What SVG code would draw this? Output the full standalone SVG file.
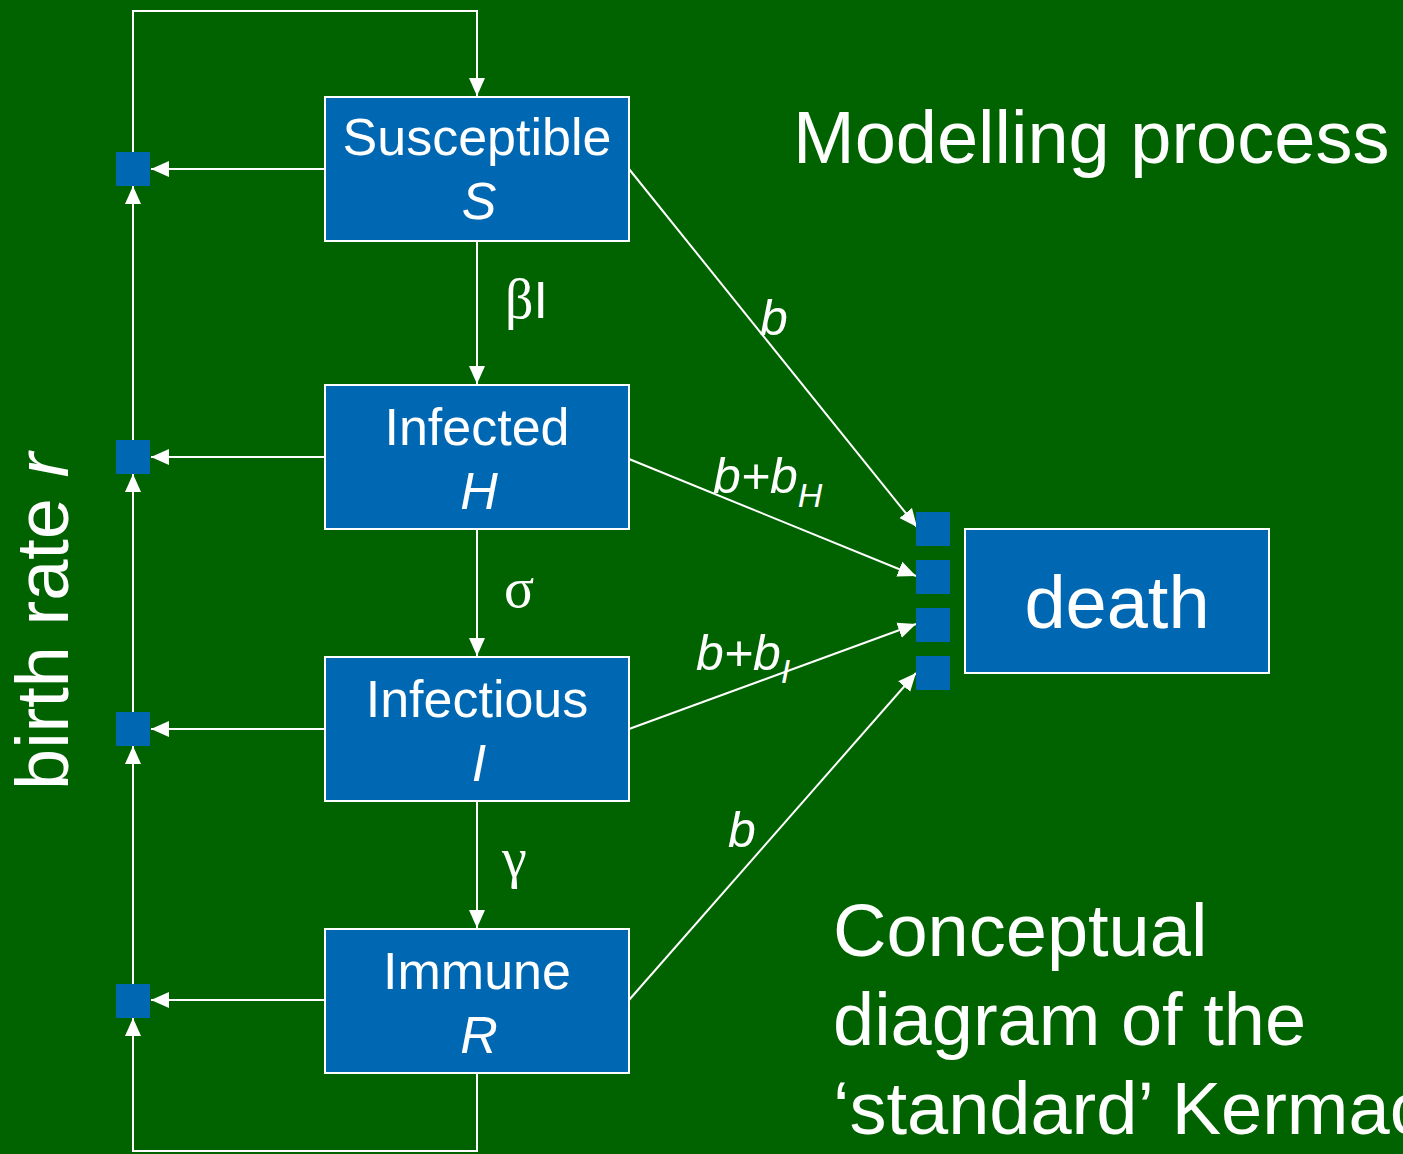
<svg xmlns="http://www.w3.org/2000/svg" width="1403" height="1154" viewBox="0 0 1403 1154">
<defs>
<style>
.box{fill:#0068b2;stroke:#ffffff;stroke-width:2}
.sq{fill:#0068b2}
.ln{fill:none;stroke:#ffffff;stroke-width:2}
.t{font-family:"Liberation Sans",Arial,sans-serif;fill:#ffffff}
.g{font-family:"Liberation Serif","Times New Roman",serif;fill:#ffffff}
.bt{font-size:52px;text-anchor:middle}
.it{font-style:italic}
.big{font-size:74px}
.lab{font-size:50px;font-style:italic}
</style>
<marker id="ah" markerUnits="userSpaceOnUse" markerWidth="18" markerHeight="18" viewBox="0 0 18 18" refX="18" refY="9" orient="auto">
<path d="M0,1 L18,9 L0,17 Z" fill="#ffffff"/>
</marker>
</defs>
<rect x="0" y="0" width="1403" height="1154" fill="#006300"/>

<g id="connectors">
<path class="ln" d="M133,152 V11 H477 V96" marker-end="url(#ah)"/>
<path class="ln" d="M477,1074 V1151 H133 V1018" marker-end="url(#ah)"/>
<path class="ln" d="M133,440 V186" marker-end="url(#ah)"/>
<path class="ln" d="M133,712 V474" marker-end="url(#ah)"/>
<path class="ln" d="M133,984 V746" marker-end="url(#ah)"/>
<path class="ln" d="M325,169 H151" marker-end="url(#ah)"/>
<path class="ln" d="M325,457 H151" marker-end="url(#ah)"/>
<path class="ln" d="M325,729 H151" marker-end="url(#ah)"/>
<path class="ln" d="M325,1000 H151" marker-end="url(#ah)"/>
<path class="ln" d="M477,241 V384" marker-end="url(#ah)"/>
<path class="ln" d="M477,529 V656" marker-end="url(#ah)"/>
<path class="ln" d="M477,801 V928" marker-end="url(#ah)"/>
<path class="ln" d="M629,169 L917,527" marker-end="url(#ah)"/>
<path class="ln" d="M629,459 L916,576" marker-end="url(#ah)"/>
<path class="ln" d="M629,729 L916,624" marker-end="url(#ah)"/>
<path class="ln" d="M629,1000 L916,673" marker-end="url(#ah)"/>
</g>

<g id="junctions">
<rect class="sq" x="116" y="152" width="34" height="34"/>
<rect class="sq" x="116" y="440" width="34" height="34"/>
<rect class="sq" x="116" y="712" width="34" height="34"/>
<rect class="sq" x="116" y="984" width="34" height="34"/>
<rect class="sq" x="916" y="512" width="34" height="34"/>
<rect class="sq" x="916" y="560" width="34" height="34"/>
<rect class="sq" x="916" y="608" width="34" height="34"/>
<rect class="sq" x="916" y="656" width="34" height="34"/>
</g>

<g id="susceptible">
<rect class="box" x="325" y="97" width="304" height="144"/>
<text class="t bt" x="477" y="155">Susceptible</text>
<text class="t bt it" x="479" y="219">S</text>
</g>
<g id="infected">
<rect class="box" x="325" y="385" width="304" height="144"/>
<text class="t bt" x="477" y="445">Infected</text>
<text class="t bt it" x="479" y="509">H</text>
</g>
<g id="infectious">
<rect class="box" x="325" y="657" width="304" height="144"/>
<text class="t bt" x="477" y="717">Infectious</text>
<text class="t bt it" x="479" y="781">I</text>
</g>
<g id="immune">
<rect class="box" x="325" y="929" width="304" height="144"/>
<text class="t bt" x="477" y="989">Immune</text>
<text class="t bt it" x="479" y="1053">R</text>
</g>
<g id="death">
<rect class="box" x="965" y="529" width="304" height="144"/>
<text class="t big" x="1117" y="628" text-anchor="middle">death</text>
</g>

<g id="labels">
<text class="g" x="505" y="318" font-size="56">β<tspan class="t" font-size="52">I</tspan></text>
<text class="g" x="504" y="607" font-size="56">σ</text>
<text class="g" x="502" y="877" font-size="56">γ</text>
<text class="t lab" x="760" y="335">b</text>
<text class="t lab" x="713" y="493">b+b<tspan font-size="34" dy="14">H</tspan></text>
<text class="t lab" x="696" y="670">b+b<tspan font-size="34" dy="13">I</tspan></text>
<text class="t lab" x="728" y="847">b</text>
<text class="t big" transform="translate(68,790) rotate(-90)">birth rate <tspan class="it">r</tspan></text>
<text class="t big" x="793" y="163" font-size="75">Modelling process</text>
<text class="t big" x="833" y="956">Conceptual</text>
<text class="t big" x="833" y="1045">diagram of the</text>
<text class="t big" x="833" y="1134">‘standard’ Kermac</text>
</g>
</svg>
